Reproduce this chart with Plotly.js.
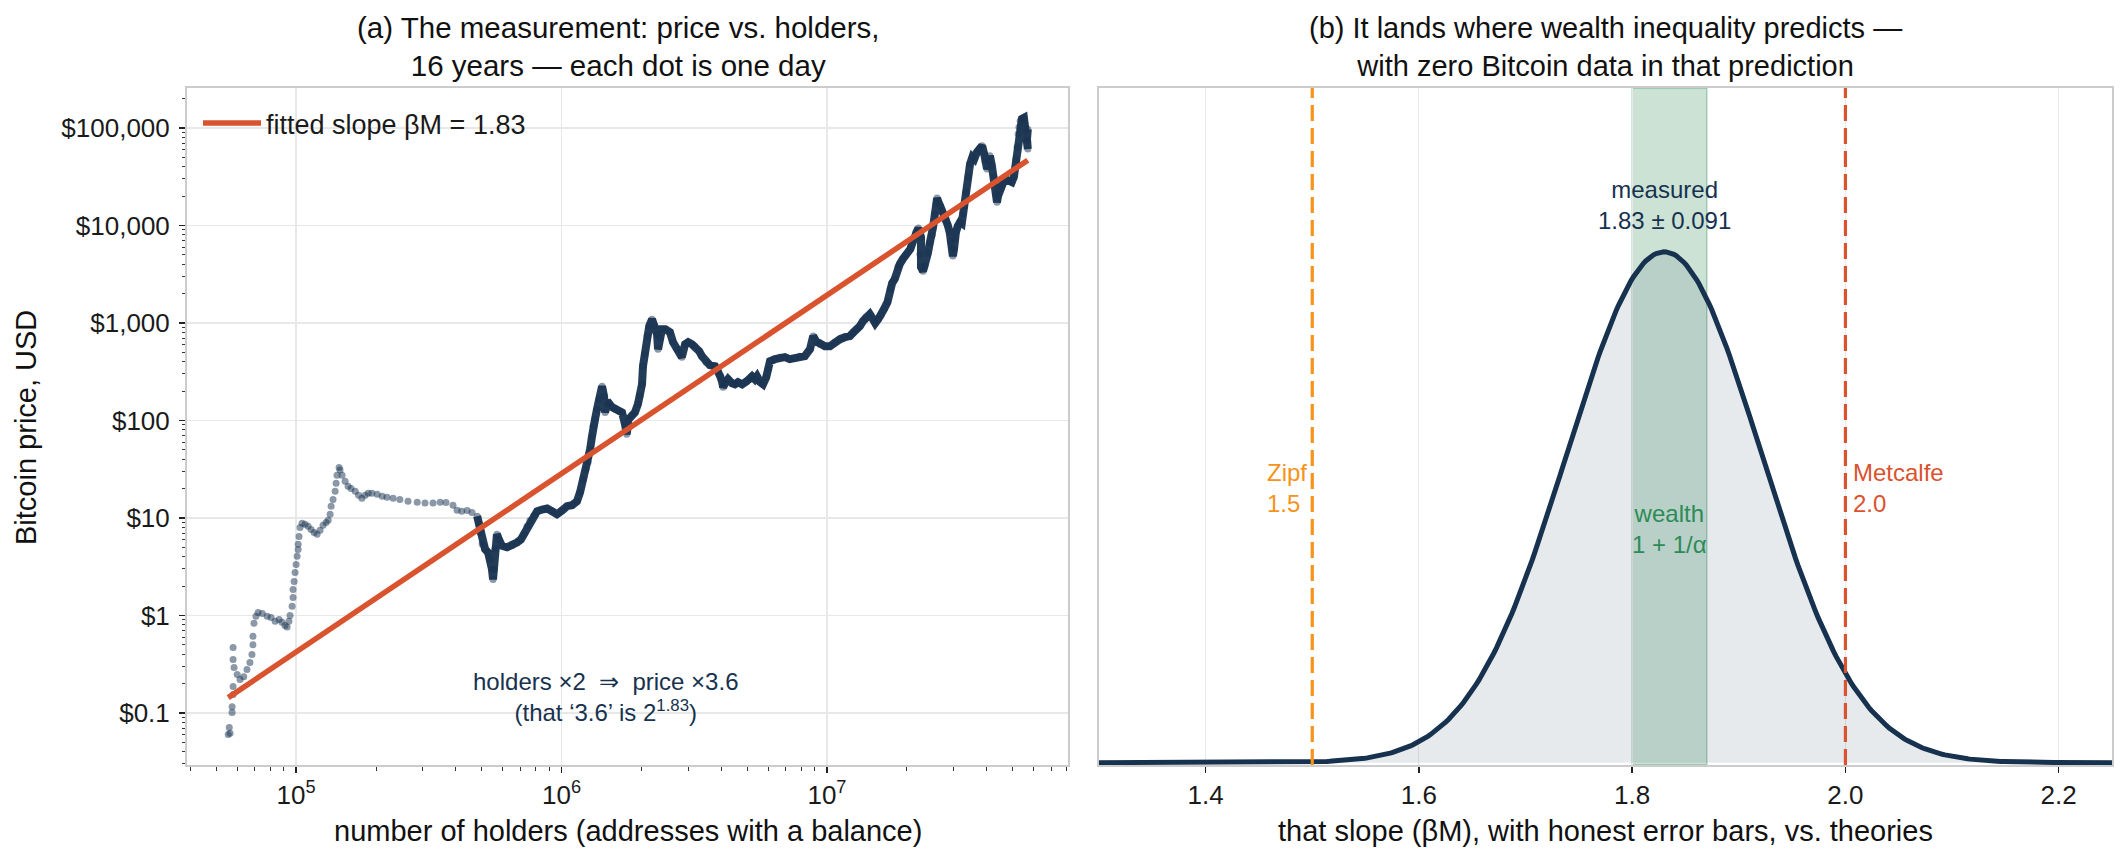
<!DOCTYPE html>
<html><head><meta charset="utf-8">
<script src="https://cdn.plot.ly/plotly-3.0.1.min.js"></script>
<style>html,body{margin:0;padding:0;background:#fff}#chart{width:2128px;height:863px}</style>
</head><body><div id="chart"></div>
<script>
// ---- data (one entry per traced day-cluster) ----
const holders = [55500,56400,56000,57400,57400,57900,57900,57900,57900,58400,60000,61500,63500,65300,67000,68200,68800,68800,69400,70600,
71900,74600,77800,80500,83400,86300,88500,90800,92500,94000,94900,96600,97400,97400,98300,99100,100000,100900,101800,101800,
102600,103500,105300,108100,111000,113900,116900,120000,123100,126400,129700,132100,134300,135500,137800,140300,141500,142600,145200,146400,
149000,153000,157000,161000,167000,172000,177000,182000,187000,193000,202000,211000,220000,232000,246000,264000,286000,306000,328000,349000,
367000,390000,404000,421000,441000,460000,481000,489000,493000,502000,515000,529000,538000,547000,552000,
557000,561000,571000,581000,596000,623000,650000,679000,703000,722000,741000,760000,787000,809000,845000,882000,921000,961000,1004000,1049000,
1095000,1143000,1174000,1205000,1237000,1259000,1281000,1303000,1314000,1337000,1360000,1383000,1421000,1446000,1459000,1484000,1510000,1550000,1590000,1650000,
1690000,1735000,1760000,1790000,1840000,1890000,1940000,1976000,2010000,2027000,2060000,2099000,2140000,2193000,2250000,2290000,2310000,2350000,2390000,2460000,
2560000,2630000,2730000,2800000,2840000,2920000,3000000,3100000,3180000,3300000,3380000,3500000,3620000,3790000,3900000,3960000,4030000,4060000,4130000,4240000,
4390000,4500000,4620000,4790000,4980000,5130000,5220000,5350000,5450000,5600000,5740000,5900000,6000000,6100000,6370000,6650000,6940000,7240000,7560000,7900000,
8250000,8630000,8870000,9100000,9400000,9820000,10260000,10700000,11200000,11700000,12200000,12600000,12970000,13300000,13670000,14000000,14500000,14900000,15200000,15600000,
16000000,16400000,16900000,17300000,17600000,18000000,18500000,18800000,19300000,19800000,20600000,21100000,21600000,22100000,22600000,22400000,22600000,23000000,23400000,24000000,
24400000,24900000,25100000,25500000,25800000,26000000,26200000,26700000,27200000,27600000,28100000,28500000,29000000,29300000,29600000,29800000,30100000,30300000,30600000,31100000,
31700000,32200000,32500000,32800000,33400000,34000000,34600000,35300000,35900000,36700000,37500000,38400000,39100000,39400000,40100000,40800000,41100000,41800000,42600000,43000000,
43300000,43700000,44100000,44800000,45900000,47100000,48400000,49700000,50600000,51100000,51500000,52000000,52500000,52900000,53400000,54300000,55200000,55700000,56200000,56700000,
57100000,56700000,57100000];
const priceUSD = [0.060,0.062,0.071,0.101,0.116,0.155,0.187,0.353,0.469,0.292,0.248,0.220,0.235,0.279,0.329,0.398,0.50,0.61,0.83,0.98,
1.07,1.05,0.98,0.95,0.87,0.91,0.85,0.79,0.76,0.87,1.0,1.24,1.53,1.85,2.23,2.76,3.34,4.04,4.76,5.36,
6.47,8.0,8.8,8.6,8.2,7.6,7.1,6.8,7.5,8.4,9.0,9.45,10.9,13.2,15.5,18.8,22.7,27.4,33.0,31,
27.4,23.8,21.1,20.1,18.8,17.1,15.9,17.1,17.9,17.9,17.5,16.7,16.3,15.9,15.5,14.8,14.5,14.2,14.2,14.5,
14.4,13.5,12.0,11.7,11.9,11.4,10.4,8.6,7.1,5.4,4.8,4.4,3.76,2.97,2.34,
2.97,4.8,6.8,6.0,5.2,5.0,5.2,5.6,6.0,6.8,8.2,9.4,10.6,11.7,12.2,12.5,11.7,10.9,11.9,13.2,
13.5,14.8,18.3,24.9,31.6,37.2,50.6,68.9,87,103,130,165,224,177,121,147,150,137,130,124,
121,91,72,103,113,121,147,177,235,360,478,733,927,1094,927,767,538,715,863,863,
805,635,538,502,446,605,635,605,578,514,456,396,369,360,320,284,247,219,241,265,
241,235,247,235,252,265,284,265,284,247,235,277,336,405,425,446,446,425,435,456,
456,538,733,650,605,578,578,635,682,715,733,805,863,927,1045,1148,1232,1094,995,1094,
1202,1387,1637,2225,2565,2818,3740,4015,4518,4966,5725,6918,8500,9400,7600,5080,3740,3400,3860,5210,
6590,7960,9610,13100,16600,19100,17800,15800,14100,12800,11600,10100,8500,6760,5725,4850,5725,7250,8500,9860,
10800,10500,13100,15800,22000,31400,42700,50300,48100,56300,60800,65800,54100,45800,37900,44700,52000,41000,31400,26600,
21000,17300,20000,23700,26600,29900,28600,27900,31400,37900,48100,63800,86700,102000,118000,124000,127000,110000,91000,73600,
60800,77000,97000];

const fitSlope = 1.83;          // beta_M
const fitIntercept = -9.525;    // log10(USD) at log10(holders)=0
const measuredSlope = 1.83;
const measuredErr = 0.091;
const zipfSlope = 1.5;
const metcalfeSlope = 2.0;
const wealthBand = [1.80, 1.87];

const priceTickVals = [0.1, 1, 10, 100, 1000, 10000, 100000];
const priceTickText = ["$0.1", "$1", "$10", "$100", "$1,000", "$10,000", "$100,000"];
const holderTickVals = [1e5, 1e6, 1e7];
const holderTickText = ["10<sup>5</sup>", "10<sup>6</sup>", "10<sup>7</sup>"];
const slopeTickVals = [1.4, 1.6, 1.8, 2.0, 2.2];

// ---- styling ----
const NAVY = '#17324f', RED = '#d9532e', ORANGE = '#f7931a', GREEN = '#2e8b57';
const FONT = 'Liberation Sans, Arial, Helvetica, sans-serif';

function minorTicks(d0, d1, lo, hi) {
  const v = [];
  for (let d = d0; d <= d1; d++) for (let k = 2; k <= 9; k++) {
    const t = k * Math.pow(10, d);
    if (t > lo && t < hi) v.push(t);
  }
  return v;
}

// dense stretch drawn as a continuous band (after the 2011 crash)
const denseStart = holders.findIndex(h => h >= 480000);
const denseX = holders.slice(denseStart), denseY = priceUSD.slice(denseStart);

const hMin = Math.min(...holders), hMax = Math.max(...holders);
const fitX = [hMin, hMax];
const fitY = fitX.map(h => Math.pow(10, fitIntercept + fitSlope * Math.log10(h)));

// normal density of the measured slope
const pdfX = [], pdfY = [];
const nPdf = 400, xa = 1.30, xb = 2.25;
for (let i = 0; i <= nPdf; i++) {
  const x = xa + (xb - xa) * i / nPdf;
  pdfX.push(x);
  pdfY.push(Math.exp(-0.5 * Math.pow((x - measuredSlope) / measuredErr, 2)) / (measuredErr * Math.sqrt(2 * Math.PI)));
}

const traces = [
  {x: denseX, y: denseY, type: 'scatter', mode: 'lines', xaxis: 'x', yaxis: 'y',
   line: {color: NAVY, width: 8}, opacity: 0.95, showlegend: false, hoverinfo: 'skip'},
  {x: holders, y: priceUSD, type: 'scatter', mode: 'markers', xaxis: 'x', yaxis: 'y',
   marker: {color: NAVY, size: 7, opacity: 0.5}, showlegend: false, name: 'daily'},
  {x: fitX, y: fitY, type: 'scatter', mode: 'lines', xaxis: 'x', yaxis: 'y',
   line: {color: RED, width: 5.5}, name: 'fitted slope βM = 1.83', showlegend: true},
  {x: pdfX, y: pdfY, type: 'scatter', mode: 'lines', xaxis: 'x2', yaxis: 'y2',
   fill: 'tozeroy', fillcolor: 'rgba(23,50,79,0.10)', line: {color: NAVY, width: 5},
   showlegend: false, name: 'measured'}
];

const L = 187, R = 2112, T = 88, B = 765;
const W = R - L, H = B - T;
const px = v => (v - L) / W;
const py = v => (B - v) / H;

const axisCommon = {
  ticks: 'outside', ticklen: 6, tickwidth: 1.5, tickcolor: '#222',
  showline: true, mirror: true, linecolor: '#cccccc', linewidth: 2,
  zeroline: false, tickfont: {size: 26, color: '#1a1a1a'}
};

const layout = {
  width: 2128, height: 863,
  margin: {l: L, r: 2128 - R, t: T, b: 863 - B},
  paper_bgcolor: '#ffffff', plot_bgcolor: '#ffffff',
  font: {family: FONT, size: 26, color: '#1a1a1a'},
  showlegend: true,
  legend: {x: px(198), y: py(99), xanchor: 'left', yanchor: 'top', bgcolor: 'rgba(0,0,0,0)',
           font: {size: 27, color: '#1a1a1a'}, itemwidth: 58, tracegroupgap: 0},
  xaxis: Object.assign({}, axisCommon, {
    type: 'log', domain: [0, px(1068)], range: [4.589, 7.908], anchor: 'y',
    tickmode: 'array', tickvals: holderTickVals, ticktext: holderTickText,
    showgrid: true, gridcolor: '#e8e8e8', gridwidth: 1.5,
    minor: {tickmode: 'array', tickvals: minorTicks(4, 7, 3.88e4, 8.09e7), ticks: 'outside',
            ticklen: 3.5, tickwidth: 1, tickcolor: '#333', showgrid: false}
  }),
  yaxis: Object.assign({}, axisCommon, {
    type: 'log', domain: [0, 1], range: [-1.534, 5.41], anchor: 'x',
    tickmode: 'array', tickvals: priceTickVals, ticktext: priceTickText,
    showgrid: true, gridcolor: '#e8e8e8', gridwidth: 1.5, ticklabelstandoff: 4,
    minor: {tickmode: 'array', tickvals: minorTicks(-2, 5, 0.0293, 2.57e5), ticks: 'outside',
            ticklen: 3.5, tickwidth: 1, tickcolor: '#333', showgrid: false}
  }),
  xaxis2: Object.assign({}, axisCommon, {
    domain: [px(1099), 1], range: [1.30, 2.25], anchor: 'y2',
    tickmode: 'array', tickvals: slopeTickVals, tickformat: '.1f',
    showgrid: true, gridcolor: '#e8e8e8', gridwidth: 1.2
  }),
  yaxis2: Object.assign({}, axisCommon, {
    domain: [0, 1], range: [-0.02, 5.79], anchor: 'x2',
    showticklabels: false, ticks: '', showgrid: false
  }),
  shapes: [
    {type: 'rect', xref: 'x2', yref: 'paper', x0: wealthBand[0], x1: wealthBand[1], y0: 0, y1: 1,
     fillcolor: 'rgba(46,139,87,0.25)', line: {color: 'rgba(46,139,87,0.35)', width: 1.5}, layer: 'below'},
    {type: 'line', xref: 'x2', yref: 'paper', x0: zipfSlope, x1: zipfSlope, y0: 0, y1: 1,
     line: {color: ORANGE, width: 3.2, dash: '16px,7px'}, layer: 'above'},
    {type: 'line', xref: 'x2', yref: 'paper', x0: metcalfeSlope, x1: metcalfeSlope, y0: 0, y1: 1,
     line: {color: RED, width: 3.2, dash: '16px,7px'}, layer: 'above'}
  ],
  annotations: [
    {xref: 'paper', yref: 'paper', x: px(618), y: py(47), xanchor: 'center', yanchor: 'middle',
     text: '(a) The measurement: price vs. holders,<br>16 years — each dot is one day',
     showarrow: false, font: {size: 29.5, color: '#111'}},
    {xref: 'paper', yref: 'paper', x: px(1605.5), y: py(47), xanchor: 'center', yanchor: 'middle',
     text: '(b) It lands where wealth inequality predicts —<br>with zero Bitcoin data in that prediction',
     showarrow: false, font: {size: 29, color: '#111'}},
    {xref: 'paper', yref: 'paper', x: px(627.5), y: py(831), xanchor: 'center', yanchor: 'middle',
     text: 'number of holders (addresses with a balance)', showarrow: false, font: {size: 29, color: '#111'}},
    {xref: 'paper', yref: 'paper', x: px(1605.5), y: py(831), xanchor: 'center', yanchor: 'middle',
     text: 'that slope (βM), with honest error bars, vs. theories', showarrow: false, font: {size: 29, color: '#111'}},
    {xref: 'paper', yref: 'paper', x: px(26), y: py(428), xanchor: 'center', yanchor: 'middle', textangle: -90,
     text: 'Bitcoin price, USD', showarrow: false, font: {size: 29, color: '#111'}},
    {xref: 'paper', yref: 'paper', x: px(605), y: py(697), xanchor: 'center', yanchor: 'middle', align: 'center',
     text: 'holders ×2\u00a0\u00a0⇒\u00a0\u00a0price ×3.6<br>(that ‘3.6’ is 2<sup>1.83</sup>)',
     showarrow: false, font: {size: 24, color: NAVY}},
    {xref: 'x2', yref: 'paper', x: measuredSlope, y: py(205), xanchor: 'center', yanchor: 'middle', align: 'center',
     text: 'measured<br>1.83 ± 0.091', showarrow: false, font: {size: 24, color: NAVY}},
    {xref: 'x2', yref: 'paper', x: (wealthBand[0] + wealthBand[1]) / 2, y: py(529), xanchor: 'center', yanchor: 'middle', align: 'center',
     text: 'wealth<br>1 + 1/α', showarrow: false, font: {size: 24, color: GREEN}},
    {xref: 'x2', yref: 'paper', x: zipfSlope - 0.003, y: py(488), xanchor: 'right', yanchor: 'middle', align: 'left',
     text: 'Zipf<br>1.5', showarrow: false, font: {size: 24, color: ORANGE}},
    {xref: 'x2', yref: 'paper', x: metcalfeSlope + 0.005, y: py(488), xanchor: 'left', yanchor: 'middle', align: 'left',
     text: 'Metcalfe<br>2.0', showarrow: false, font: {size: 24, color: RED}}
  ]
};

Plotly.newPlot('chart', traces, layout, {staticPlot: true, displayModeBar: false});
</script>
</body></html>
